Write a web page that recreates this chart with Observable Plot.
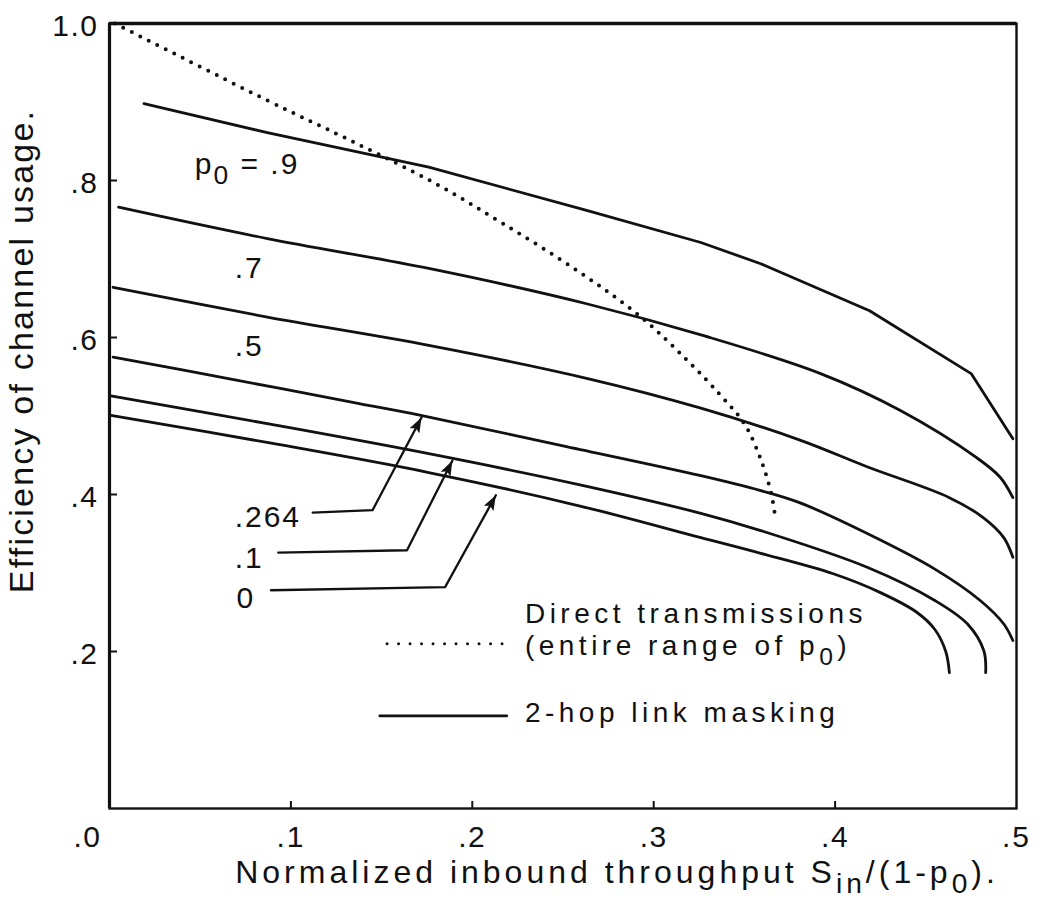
<!DOCTYPE html>
<html>
<head>
<meta charset="utf-8">
<script src="https://cdn.jsdelivr.net/npm/d3@7"></script>
<script src="https://cdn.jsdelivr.net/npm/@observablehq/plot@0.6"></script>
<style>
  html, body { margin: 0; padding: 0; background: #fff; }
  #chart { width: 1037px; height: 901px; }
</style>
</head>
<body>
<div id="chart"></div>
<script>
// ---------- data ----------
const seriesNames = [".9", ".7", ".5", ".264", ".1", "0"];

const x09 = [0.019, 0.087, 0.176, 0.263, 0.326, 0.359, 0.419, 0.475, 0.498];
const y09 = [0.898, 0.861, 0.817, 0.762, 0.721, 0.694, 0.634, 0.554, 0.471];

const x07 = [0.005, 0.087, 0.176, 0.263, 0.328, 0.392, 0.436, 0.478, 0.491, 0.498];
const y07 = [0.766, 0.726, 0.688, 0.643, 0.602, 0.554, 0.507, 0.447, 0.422, 0.396];

const x05 = [0.002, 0.087, 0.176, 0.263, 0.326, 0.381, 0.418, 0.463, 0.482, 0.493, 0.498];
const y05 = [0.664, 0.626, 0.590, 0.548, 0.510, 0.469, 0.435, 0.396, 0.370, 0.345, 0.320];

const x264 = [0.002, 0.067, 0.137, 0.171, 0.250, 0.326, 0.359, 0.380, 0.418, 0.455, 0.480, 0.493, 0.498];
const y264 = [0.575, 0.547, 0.516, 0.501, 0.462, 0.424, 0.405, 0.390, 0.350, 0.305, 0.265, 0.235, 0.214];

const x01 = [0.000, 0.090, 0.176, 0.260, 0.326, 0.359, 0.418, 0.455, 0.473, 0.482, 0.483];
const y01 = [0.526, 0.489, 0.452, 0.412, 0.376, 0.354, 0.307, 0.265, 0.235, 0.201, 0.173];

const x00 = [0.000, 0.090, 0.176, 0.260, 0.326, 0.359, 0.399, 0.425, 0.445, 0.455, 0.461, 0.463];
const y00 = [0.501, 0.465, 0.428, 0.385, 0.345, 0.325, 0.299, 0.275, 0.250, 0.228, 0.200, 0.173];

// direct transmissions (dotted)
const directX = [0.003, 0.087, 0.131, 0.179, 0.217, 0.258, 0.293, 0.318, 0.337, 0.350, 0.359, 0.365, 0.367];
const directY = [1.000, 0.902, 0.853, 0.797, 0.745, 0.685, 0.626, 0.572, 0.526, 0.490, 0.445, 0.399, 0.371];

// curve labels
const labelText = ["p_{0} = .9", ".7", ".5", ".264", ".1", "0"];
const labelX = [0.047, 0.069, 0.069, 0.069, 0.069, 0.070];
const labelY = [0.808, 0.676, 0.577, 0.358, 0.307, 0.256];

// leader arrows: label -> elbow -> curve
const arrowNames = [".264", ".1", "0"];
const arrowX = [[0.112, 0.145, 0.172], [0.093, 0.164, 0.189], [0.089, 0.185, 0.213]];
const arrowY = [[0.377, 0.380, 0.498], [0.326, 0.329, 0.443], [0.278, 0.282, 0.399]];

// legend
const legendText = ["Direct transmissions", "(entire range of p_{0})", "2-hop link masking"];
const legendTextX = [0.229, 0.229, 0.229];
const legendTextY = [0.236, 0.195, 0.110];
const legendDottedX = [0.153, 0.218];
const legendDottedY = [0.210, 0.210];
const legendSolidX = [0.149, 0.219];
const legendSolidY = [0.118, 0.118];

// axes
const xTicks = [0, 0.1, 0.2, 0.3, 0.4, 0.5];
const yTicks = [0.2, 0.4, 0.6, 0.8, 1.0];
const xTitle = "Normalized inbound throughput S_{in}/(1-p_{0}).";
const yTitle = "Efficiency of channel usage.";

// ---------- build tables ----------
const curveXs = [x09, x07, x05, x264, x01, x00];
const curveYs = [y09, y07, y05, y264, y01, y00];
const curves = seriesNames.flatMap((s, k) => curveXs[k].map((x, i) => ({s, x, y: curveYs[k][i]})));
const direct = directX.map((x, i) => ({x, y: directY[i]}));
const labels = labelText.map((t, i) => ({t, x: labelX[i], y: labelY[i]}));
const arrows = arrowNames.flatMap((s, k) => arrowX[k].map((x, i) => ({s, x, y: arrowY[k][i]})));
const legendLabels = legendText.map((t, i) => ({t, x: legendTextX[i], y: legendTextY[i]}));
const legendDotted = legendDottedX.map((x, i) => ({x, y: legendDottedY[i]}));
const legendSolid = legendSolidX.map((x, i) => ({x, y: legendSolidY[i]}));

const fmt = d => d3.format(".1f")(d).replace(/^0(?=\.)/, "");
const FONT = "'Liberation Sans', Arial, Helvetica, sans-serif";
const INK = "#111";

function filledArrow(color) {
  const m = d3.create("svg:marker")
    .attr("viewBox", "-15 -6 16 12")
    .attr("markerWidth", 16).attr("markerHeight", 12)
    .attr("markerUnits", "userSpaceOnUse")
    .attr("orient", "auto")
    .attr("refX", 0).attr("refY", 0);
  m.append("path").attr("d", "M-15,-5.5L0,0L-15,5.5L-12,0Z").attr("fill", color).attr("stroke", "none");
  return m.node();
}

function build(marker) {
  return Plot.plot({
    width: 1037, height: 901,
    marginTop: 23, marginRight: 21, marginBottom: 93, marginLeft: 109,
    x: {domain: [0, 0.5]},
    y: {domain: [0, 1]},
    style: {fontFamily: FONT, background: "#fff", color: INK, overflow: "visible"},
    marks: [
      Plot.frame({stroke: INK, strokeWidth: 2.4}),
      Plot.ruleY([1], {stroke: INK, strokeWidth: 3.4}),
      Plot.ruleX([0], {stroke: INK, strokeWidth: 3.2}),
      Plot.ruleX(xTicks.filter(d => d > 0 && d < 0.5), {x: d => d, y1: 0, y2: 0, insetTop: -7, stroke: INK, strokeWidth: 2}),
      Plot.ruleY(yTicks.filter(d => d < 1), {y: d => d, x1: 0, x2: 0, insetRight: -8, stroke: INK, strokeWidth: 2}),
      Plot.axisX({ticks: xTicks.slice(1), tickSize: 0, tickPadding: 17, tickFormat: fmt, fontSize: 30, label: null}),
      Plot.axisX({ticks: xTicks.slice(0, 1), tickSize: 0, tickPadding: 17, tickFormat: fmt, fontSize: 30, label: null, dx: -22}),
      Plot.axisY({ticks: yTicks, tickSize: 0, tickPadding: 11, tickFormat: fmt, fontSize: 30, label: null, dy: 3}),
      // direct transmissions (dotted)
      Plot.line(direct, {x: "x", y: "y", curve: "catmull-rom", stroke: INK, strokeWidth: 4,
        strokeDasharray: "0 9.5", strokeLinecap: "round"}),
      // 2-hop link masking curves
      Plot.line(curves.filter(d => d.s === ".9"), {x: "x", y: "y", curve: "linear", stroke: INK, strokeWidth: 2.8}),
      Plot.line(curves.filter(d => d.s !== ".9"), {x: "x", y: "y", z: "s", curve: "catmull-rom", stroke: INK, strokeWidth: 2.8}),
      // leader arrows
      Plot.line(arrows, {x: "x", y: "y", z: "s", curve: "linear", stroke: INK, strokeWidth: 2.3, markerEnd: marker}),
      // labels
      Plot.text(labels, {x: "x", y: "y", text: "t", textAnchor: "start", lineAnchor: "bottom", fontSize: 30, fill: INK}),
      // legend
      Plot.line(legendDotted, {x: "x", y: "y", stroke: INK, strokeWidth: 3, strokeDasharray: "0 11.5", strokeLinecap: "round"}),
      Plot.line(legendSolid, {x: "x", y: "y", stroke: INK, strokeWidth: 2.8}),
      Plot.text(legendLabels, {x: "x", y: "y", text: "t", textAnchor: "start", lineAnchor: "bottom", fontSize: 28, fill: INK}),
      // axis titles
      Plot.text([xTitle], {text: d => d, frameAnchor: "bottom", textAnchor: "middle", lineAnchor: "bottom", dx: 54, dy: 74, fontSize: 32, fill: INK}),
      Plot.text([yTitle], {text: d => d, frameAnchor: "left", textAnchor: "middle", rotate: -90, dx: -87, dy: -65, fontSize: 34, fill: INK})
    ]
  });
}

let plot;
try { plot = build(filledArrow); } catch (e) { plot = build("arrow"); }
document.getElementById("chart").append(plot);

const svgNode = plot.tagName.toLowerCase() === "svg" ? plot : plot.querySelector("svg");
const svg = d3.select(svgNode);

// letter spacing by text (the reference's lettering is loosely tracked)
const spacing = new Map();
xTicks.concat(yTicks).forEach(d => spacing.set(fmt(d), "1.5px"));
labelText.forEach(t => spacing.set(t, "2px"));
legendText.forEach(t => spacing.set(t, "4.5px"));
spacing.set(xTitle, "4px");
spacing.set(yTitle, "2.2px");
svg.selectAll("text").each(function () {
  const s = spacing.get(this.textContent);
  if (s) this.style.letterSpacing = s;
});

// subscripts: "_{...}"
const SUB = 10;
svg.selectAll("text").each(function () {
  const t = this.textContent;
  if (!t.includes("_{")) return;
  const parts = t.split(/(_\{[^}]*\})/).filter(p => p);
  const sel = d3.select(this);
  sel.text(null);
  let down = false;
  for (const p of parts) {
    if (p.startsWith("_{")) {
      sel.append("tspan").attr("dy", SUB).attr("font-size", "88%").text(p.slice(2, -1));
      down = true;
    } else {
      const ts = sel.append("tspan").text(p);
      if (down) { ts.attr("dy", -SUB); down = false; }
    }
  }
});
</script>
</body>
</html>
